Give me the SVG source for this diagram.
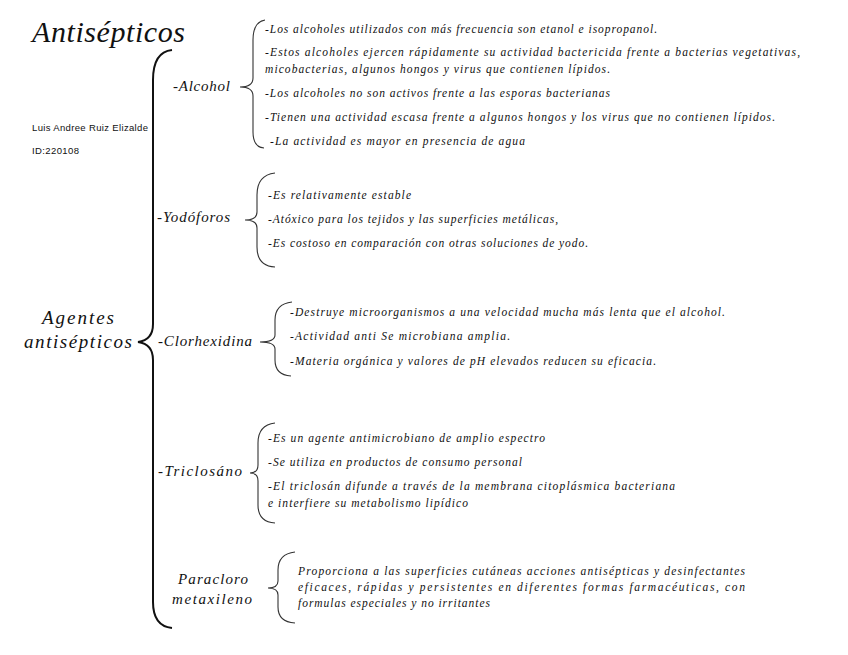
<svg xmlns="http://www.w3.org/2000/svg" width="848" height="655" viewBox="0 0 848 655">
<style>
.it{font-family:"Liberation Serif","DejaVu Serif",serif;font-style:italic;font-size:11.5px;fill:#111}
.lb{font-family:"Liberation Serif","DejaVu Serif",serif;font-style:italic;font-size:15px;fill:#111}
.big{font-family:"Liberation Serif","DejaVu Serif",serif;font-style:italic;font-size:19px;fill:#111}
.ttl{font-family:"Liberation Serif","DejaVu Serif",serif;font-style:italic;font-size:30px;fill:#111}
.sm{font-family:"Liberation Sans","Open Sans",sans-serif;font-size:9.5px;fill:#111}
.br{fill:none;stroke:#333;stroke-width:1.1}
.mb{fill:none;stroke:#111;stroke-width:2}
</style>
<rect width="848" height="655" fill="#fff"/>
<g id="title"><text class="ttl" x="32" y="42" textLength="153">Antisépticos</text></g>
<g id="author">
<text class="sm" x="32" y="131" textLength="116">Luis Andree Ruiz Elizalde</text>
<text class="sm" x="32" y="154" textLength="47">ID:220108</text>
</g>
<g id="connectors">
<path class="mb" d="M172 50 Q153 52 153 80 L153 324 Q153 340 138 342 Q153 344 153 360 L153 602 Q153 626 172 628"/>
<path class="br" d="M265 20 Q253 22 253 40 L253 78 Q253 87 240 87 Q253 87 253 96 L253 132 Q253 147 264 148"/>
<path class="br" d="M275 173 Q257 175 257 195 L257 212 Q257 220 245 220 Q257 220 257 228 L257 247 Q257 266 275 267"/>
<path class="br" d="M292 302 Q275 304 275 320 L275 335 Q275 342 260 342 Q275 342 275 349 L275 360 Q275 375 291 376"/>
<path class="br" d="M275 423 Q258 425 258 443 L258 465 Q258 473 250 473 Q258 473 258 481 L258 505 Q258 522 275 523"/>
<path class="br" d="M295 552 Q278 554 278 570 L278 581 Q278 588 268 588 Q278 588 278 595 L278 607 Q278 622 295 623"/>
</g>
<g id="root"><text class="big" x="42" y="324" textLength="72">Agentes</text><text class="big" x="24" y="348" textLength="108">antisépticos</text></g>
<g id="alcohol">
<text class="lb" x="173" y="91" textLength="57">-Alcohol</text>
<text class="it" x="265" y="33" textLength="392">-Los alcoholes utilizados con más frecuencia son etanol e isopropanol.</text>
<text class="it" x="265" y="56" textLength="535">-Estos alcoholes ejercen rápidamente su actividad bactericida frente a bacterias vegetativas,</text>
<text class="it" x="265" y="73" textLength="345">micobacterias, algunos hongos y virus que contienen lípidos.</text>
<text class="it" x="265" y="97" textLength="345">-Los alcoholes no son activos frente a las esporas bacterianas</text>
<text class="it" x="265" y="121" textLength="510">-Tienen una actividad escasa frente a algunos hongos y los virus que no contienen lípidos.</text>
<text class="it" x="270" y="145" textLength="255">-La actividad es mayor en presencia de agua</text>
</g>
<g id="yodoforos">
<text class="lb" x="157" y="222" textLength="73">-Yodóforos</text>
<text class="it" x="268" y="199" textLength="143">-Es relativamente estable</text>
<text class="it" x="268" y="223" textLength="290">-Atóxico para los tejidos y las superficies metálicas,</text>
<text class="it" x="268" y="247" textLength="320">-Es costoso en comparación con otras soluciones de yodo.</text>
</g>
<g id="clorhexidina">
<text class="lb" x="158" y="346" textLength="94">-Clorhexidina</text>
<text class="it" x="290" y="316" textLength="435">-Destruye microorganismos a una velocidad mucha más lenta que el alcohol.</text>
<text class="it" x="290" y="340" textLength="220">-Actividad anti Se microbiana amplia.</text>
<text class="it" x="290" y="365" textLength="366">-Materia orgánica y valores de pH elevados reducen su eficacia.</text>
</g>
<g id="triclosan">
<text class="lb" x="158" y="476" textLength="84">-Triclosáno</text>
<text class="it" x="268" y="442" textLength="277">-Es un agente antimicrobiano de amplio espectro</text>
<text class="it" x="268" y="466" textLength="254">-Se utiliza en productos de consumo personal</text>
<text class="it" x="268" y="490" textLength="407">-El triclosán difunde a través de la membrana citoplásmica bacteriana</text>
<text class="it" x="268" y="507" textLength="200">e interfiere su metabolismo lipídico</text>
</g>
<g id="paracloro">
<text class="lb" x="178" y="584" textLength="70">Paracloro</text>
<text class="lb" x="172" y="604" textLength="80">metaxileno</text>
<text class="it" x="298" y="575" textLength="447">Proporciona a las superficies cutáneas acciones antisépticas y desinfectantes</text>
<text class="it" x="298" y="591" textLength="447">eficaces, rápidas y persistentes en diferentes formas farmacéuticas, con</text>
<text class="it" x="298" y="607" textLength="192">formulas especiales y no irritantes</text>
</g>
</svg>
